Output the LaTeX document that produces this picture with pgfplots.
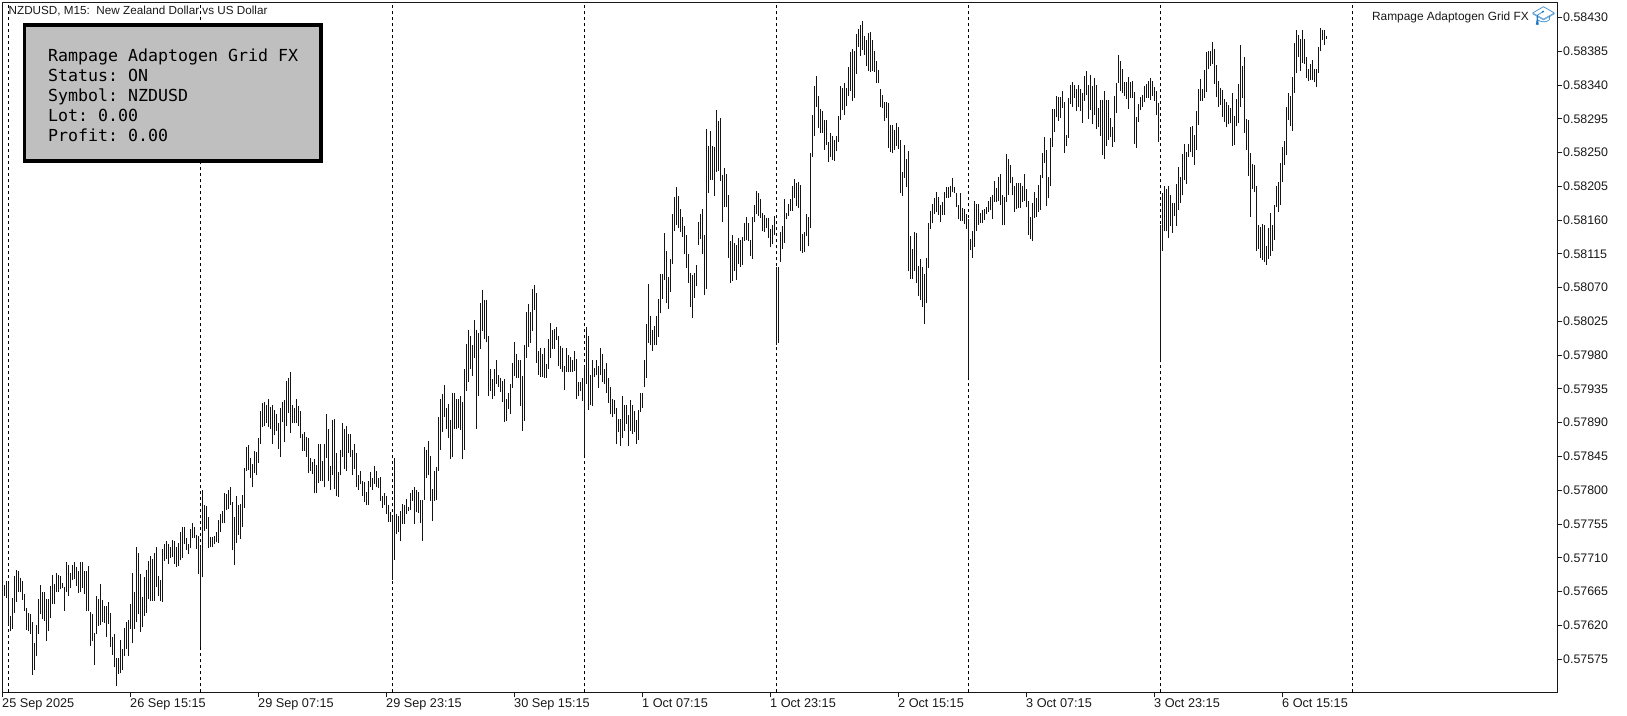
\documentclass[border=0pt]{standalone}
\usepackage{fontspec}
\setmainfont{Liberation Sans}
\newfontfamily\panelfont{DejaVu Sans Mono}
\newfontfamily\emojifont{Noto Emoji}
\usepackage{pgfplots}
\usepackage{pgfplotstable}
\pgfplotsset{compat=1.18}

% NZDUSD M15 bars: bar number, low, high
\pgfplotstableread{
i lo hi
0 0.57659 0.57674
1 0.57656 0.57679
2 0.57621 0.57675
3 0.57612 0.57633
4 0.57615 0.57656
5 0.57637 0.57686
6 0.57651 0.57694
7 0.57664 0.57693
8 0.57664 0.57683
9 0.57654 0.57679
10 0.57639 0.57662
11 0.57614 0.57643
12 0.57612 0.57637
13 0.57609 0.57635
14 0.57554 0.57625
15 0.57561 0.57596
16 0.57579 0.57621
17 0.57609 0.57655
18 0.57635 0.57674
19 0.57628 0.57665
20 0.57626 0.57665
21 0.57599 0.57655
22 0.57612 0.57655
23 0.57630 0.57673
24 0.57648 0.57687
25 0.57648 0.57675
26 0.57664 0.57690
27 0.57665 0.57687
28 0.57668 0.57686
29 0.57670 0.57676
30 0.57639 0.57671
31 0.57665 0.57705
32 0.57659 0.57701
33 0.57670 0.57690
34 0.57680 0.57701
35 0.57682 0.57705
36 0.57673 0.57698
37 0.57663 0.57693
38 0.57664 0.57705
39 0.57670 0.57705
40 0.57662 0.57693
41 0.57639 0.57693
42 0.57639 0.57699
43 0.57593 0.57638
44 0.57599 0.57635
45 0.57567 0.57610
46 0.57608 0.57659
47 0.57619 0.57655
48 0.57621 0.57675
49 0.57624 0.57654
50 0.57623 0.57646
51 0.57604 0.57646
52 0.57622 0.57651
53 0.57591 0.57637
54 0.57581 0.57605
55 0.57564 0.57608
56 0.57539 0.57577
57 0.57555 0.57577
58 0.57556 0.57601
59 0.57560 0.57588
60 0.57579 0.57617
61 0.57588 0.57625
62 0.57579 0.57627
63 0.57615 0.57648
64 0.57596 0.57690
65 0.57615 0.57664
66 0.57624 0.57724
67 0.57635 0.57716
68 0.57611 0.57689
69 0.57618 0.57658
70 0.57633 0.57685
71 0.57637 0.57694
72 0.57655 0.57706
73 0.57652 0.57713
74 0.57652 0.57709
75 0.57653 0.57717
76 0.57671 0.57725
77 0.57659 0.57686
78 0.57652 0.57680
79 0.57651 0.57722
80 0.57706 0.57729
81 0.57708 0.57733
82 0.57702 0.57728
83 0.57710 0.57724
84 0.57711 0.57734
85 0.57702 0.57733
86 0.57698 0.57724
87 0.57699 0.57730
88 0.57707 0.57744
89 0.57710 0.57751
90 0.57728 0.57751
91 0.57720 0.57737
92 0.57715 0.57729
93 0.57723 0.57748
94 0.57737 0.57756
95 0.57737 0.57751
96 0.57722 0.57740
97 0.57688 0.57739
98 0.57591 0.57724
99 0.57684 0.57801
100 0.57746 0.57781
101 0.57749 0.57779
102 0.57723 0.57764
103 0.57724 0.57738
104 0.57724 0.57738
105 0.57729 0.57739
106 0.57731 0.57744
107 0.57730 0.57760
108 0.57744 0.57768
109 0.57756 0.57773
110 0.57756 0.57797
111 0.57774 0.57795
112 0.57775 0.57801
113 0.57781 0.57805
114 0.57720 0.57785
115 0.57700 0.57765
116 0.57730 0.57793
117 0.57741 0.57780
118 0.57735 0.57782
119 0.57751 0.57794
120 0.57776 0.57830
121 0.57826 0.57857
122 0.57827 0.57860
123 0.57817 0.57843
124 0.57804 0.57835
125 0.57823 0.57852
126 0.57820 0.57851
127 0.57836 0.57870
128 0.57861 0.57905
129 0.57884 0.57916
130 0.57885 0.57917
131 0.57889 0.57913
132 0.57884 0.57922
133 0.57882 0.57911
134 0.57862 0.57913
135 0.57873 0.57907
136 0.57879 0.57902
137 0.57855 0.57889
138 0.57844 0.57909
139 0.57891 0.57918
140 0.57864 0.57920
141 0.57886 0.57945
142 0.57903 0.57949
143 0.57876 0.57957
144 0.57889 0.57913
145 0.57889 0.57909
146 0.57889 0.57921
147 0.57886 0.57912
148 0.57869 0.57905
149 0.57852 0.57875
150 0.57852 0.57878
151 0.57844 0.57871
152 0.57823 0.57869
153 0.57826 0.57843
154 0.57822 0.57838
155 0.57796 0.57842
156 0.57796 0.57833
157 0.57810 0.57862
158 0.57813 0.57862
159 0.57812 0.57839
160 0.57804 0.57861
161 0.57843 0.57901
162 0.57813 0.57882
163 0.57801 0.57833
164 0.57821 0.57893
165 0.57802 0.57895
166 0.57793 0.57849
167 0.57791 0.57825
168 0.57820 0.57853
169 0.57844 0.57889
170 0.57829 0.57881
171 0.57826 0.57885
172 0.57849 0.57875
173 0.57844 0.57875
174 0.57820 0.57854
175 0.57829 0.57861
176 0.57804 0.57849
177 0.57800 0.57820
178 0.57808 0.57826
179 0.57793 0.57812
180 0.57784 0.57811
181 0.57780 0.57798
182 0.57781 0.57812
183 0.57804 0.57825
184 0.57800 0.57817
185 0.57809 0.57832
186 0.57804 0.57826
187 0.57803 0.57817
188 0.57786 0.57818
189 0.57776 0.57792
190 0.57780 0.57796
191 0.57769 0.57793
192 0.57758 0.57781
193 0.57758 0.57771
194 0.57680 0.57765
195 0.57707 0.57843
196 0.57742 0.57768
197 0.57744 0.57766
198 0.57732 0.57773
199 0.57755 0.57782
200 0.57755 0.57780
201 0.57769 0.57789
202 0.57772 0.57778
203 0.57774 0.57797
204 0.57786 0.57801
205 0.57755 0.57805
206 0.57771 0.57800
207 0.57770 0.57798
208 0.57756 0.57787
209 0.57733 0.57787
210 0.57787 0.57858
211 0.57817 0.57853
212 0.57820 0.57865
213 0.57786 0.57845
214 0.57759 0.57802
215 0.57786 0.57826
216 0.57787 0.57831
217 0.57826 0.57898
218 0.57854 0.57921
219 0.57878 0.57928
220 0.57898 0.57940
221 0.57881 0.57909
222 0.57870 0.57915
223 0.57841 0.57893
224 0.57844 0.57930
225 0.57882 0.57929
226 0.57882 0.57921
227 0.57883 0.57921
228 0.57880 0.57926
229 0.57841 0.57917
230 0.57854 0.57961
231 0.57932 0.57995
232 0.57944 0.58014
233 0.57961 0.58005
234 0.57952 0.57994
235 0.57976 0.58027
236 0.57882 0.58014
237 0.57926 0.58009
238 0.57988 0.58049
239 0.58012 0.58067
240 0.58002 0.58054
241 0.57997 0.58054
242 0.57926 0.58005
243 0.57932 0.57962
244 0.57922 0.57948
245 0.57926 0.57962
246 0.57942 0.57973
247 0.57938 0.57954
248 0.57931 0.57950
249 0.57918 0.57945
250 0.57891 0.57948
251 0.57892 0.57921
252 0.57908 0.57929
253 0.57902 0.57942
254 0.57936 0.57970
255 0.57952 0.57998
256 0.57949 0.57982
257 0.57950 0.57973
258 0.57912 0.57973
259 0.57879 0.57952
260 0.57892 0.57994
261 0.57976 0.58038
262 0.57991 0.58048
263 0.57996 0.58037
264 0.58012 0.58068
265 0.58040 0.58073
266 0.57970 0.58063
267 0.57954 0.57986
268 0.57951 0.57989
269 0.57951 0.57981
270 0.57950 0.57989
271 0.57950 0.57968
272 0.57962 0.58002
273 0.57976 0.58023
274 0.57988 0.58013
275 0.57988 0.58015
276 0.58000 0.58018
277 0.57966 0.58006
278 0.57962 0.57992
279 0.57958 0.57990
280 0.57934 0.57965
281 0.57958 0.57989
282 0.57957 0.57980
283 0.57958 0.57978
284 0.57958 0.57973
285 0.57959 0.57985
286 0.57921 0.57975
287 0.57925 0.57944
288 0.57932 0.57944
289 0.57919 0.57950
290 0.57847 0.57965
291 0.57941 0.58018
292 0.57907 0.58006
293 0.57913 0.57953
294 0.57912 0.57973
295 0.57951 0.57963
296 0.57953 0.57973
297 0.57936 0.57966
298 0.57954 0.57990
299 0.57944 0.57981
300 0.57942 0.57961
301 0.57930 0.57969
302 0.57916 0.57950
303 0.57901 0.57938
304 0.57898 0.57922
305 0.57902 0.57920
306 0.57861 0.57910
307 0.57878 0.57895
308 0.57859 0.57895
309 0.57870 0.57925
310 0.57879 0.57913
311 0.57888 0.57914
312 0.57859 0.57900
313 0.57879 0.57920
314 0.57875 0.57914
315 0.57877 0.57905
316 0.57861 0.57893
317 0.57867 0.57907
318 0.57904 0.57929
319 0.57910 0.57930
320 0.57937 0.57973
321 0.57949 0.58021
322 0.57996 0.58075
323 0.57993 0.58032
324 0.57986 0.58013
325 0.57993 0.58019
326 0.57993 0.58032
327 0.58004 0.58055
328 0.58036 0.58088
329 0.58055 0.58088
330 0.58080 0.58143
331 0.58049 0.58119
332 0.58042 0.58084
333 0.58064 0.58108
334 0.58101 0.58168
335 0.58146 0.58191
336 0.58154 0.58204
337 0.58150 0.58192
338 0.58144 0.58175
339 0.58138 0.58164
340 0.58115 0.58152
341 0.58096 0.58140
342 0.58076 0.58115
343 0.58044 0.58090
344 0.58029 0.58087
345 0.58056 0.58089
346 0.58072 0.58100
347 0.58127 0.58158
348 0.58135 0.58168
349 0.58115 0.58175
350 0.58060 0.58140
351 0.58068 0.58281
352 0.58196 0.58259
353 0.58213 0.58279
354 0.58213 0.58259
355 0.58192 0.58258
356 0.58224 0.58307
357 0.58226 0.58292
358 0.58212 0.58296
359 0.58158 0.58220
360 0.58178 0.58229
361 0.58177 0.58221
362 0.58109 0.58194
363 0.58076 0.58132
364 0.58079 0.58140
365 0.58092 0.58129
366 0.58080 0.58127
367 0.58102 0.58136
368 0.58098 0.58133
369 0.58100 0.58138
370 0.58132 0.58156
371 0.58133 0.58164
372 0.58132 0.58156
373 0.58112 0.58133
374 0.58108 0.58164
375 0.58158 0.58180
376 0.58168 0.58199
377 0.58166 0.58196
378 0.58163 0.58188
379 0.58145 0.58170
380 0.58144 0.58167
381 0.58149 0.58163
382 0.58136 0.58163
383 0.58124 0.58148
384 0.58128 0.58153
385 0.58140 0.58166
386 0.57993 0.58097
387 0.57996 0.58098
388 0.58104 0.58144
389 0.58121 0.58152
390 0.58130 0.58188
391 0.58161 0.58170
392 0.58166 0.58181
393 0.58172 0.58188
394 0.58172 0.58206
395 0.58190 0.58215
396 0.58179 0.58210
397 0.58176 0.58211
398 0.58119 0.58207
399 0.58116 0.58141
400 0.58117 0.58144
401 0.58139 0.58168
402 0.58125 0.58164
403 0.58150 0.58249
404 0.58244 0.58300
405 0.58272 0.58339
406 0.58311 0.58352
407 0.58283 0.58326
408 0.58276 0.58308
409 0.58276 0.58306
410 0.58254 0.58294
411 0.58260 0.58294
412 0.58238 0.58264
413 0.58244 0.58276
414 0.58240 0.58272
415 0.58239 0.58267
416 0.58252 0.58272
417 0.58264 0.58299
418 0.58294 0.58339
419 0.58307 0.58336
420 0.58300 0.58343
421 0.58312 0.58336
422 0.58326 0.58364
423 0.58332 0.58384
424 0.58319 0.58388
425 0.58323 0.58386
426 0.58355 0.58408
427 0.58391 0.58415
428 0.58379 0.58420
429 0.58387 0.58426
430 0.58380 0.58406
431 0.58366 0.58400
432 0.58359 0.58409
433 0.58358 0.58411
434 0.58359 0.58400
435 0.58357 0.58386
436 0.58343 0.58372
437 0.58343 0.58360
438 0.58311 0.58335
439 0.58309 0.58327
440 0.58292 0.58318
441 0.58296 0.58317
442 0.58256 0.58316
443 0.58251 0.58287
444 0.58249 0.58287
445 0.58253 0.58280
446 0.58259 0.58289
447 0.58255 0.58284
448 0.58196 0.58267
449 0.58192 0.58224
450 0.58216 0.58260
451 0.58204 0.58241
452 0.58092 0.58252
453 0.58081 0.58139
454 0.58081 0.58122
455 0.58092 0.58144
456 0.58076 0.58143
457 0.58059 0.58099
458 0.58053 0.58108
459 0.58044 0.58097
460 0.58022 0.58088
461 0.58049 0.58110
462 0.58096 0.58156
463 0.58148 0.58172
464 0.58156 0.58181
465 0.58168 0.58189
466 0.58171 0.58198
467 0.58167 0.58191
468 0.58157 0.58180
469 0.58167 0.58184
470 0.58167 0.58198
471 0.58190 0.58204
472 0.58190 0.58204
473 0.58191 0.58205
474 0.58197 0.58216
475 0.58196 0.58204
476 0.58178 0.58196
477 0.58161 0.58180
478 0.58159 0.58196
479 0.58159 0.58176
480 0.58155 0.58175
481 0.58148 0.58168
482 0.57950 0.58161
483 0.58120 0.58135
484 0.58109 0.58146
485 0.58124 0.58185
486 0.58146 0.58181
487 0.58154 0.58181
488 0.58156 0.58169
489 0.58156 0.58174
490 0.58160 0.58175
491 0.58168 0.58178
492 0.58171 0.58185
493 0.58173 0.58191
494 0.58161 0.58193
495 0.58184 0.58212
496 0.58184 0.58203
497 0.58186 0.58218
498 0.58180 0.58221
499 0.58153 0.58194
500 0.58153 0.58191
501 0.58184 0.58248
502 0.58193 0.58241
503 0.58209 0.58233
504 0.58193 0.58218
505 0.58171 0.58205
506 0.58175 0.58209
507 0.58176 0.58209
508 0.58176 0.58209
509 0.58184 0.58205
510 0.58186 0.58222
511 0.58177 0.58201
512 0.58140 0.58185
513 0.58135 0.58164
514 0.58132 0.58183
515 0.58163 0.58198
516 0.58164 0.58190
517 0.58171 0.58207
518 0.58174 0.58220
519 0.58216 0.58250
520 0.58236 0.58271
521 0.58179 0.58254
522 0.58189 0.58218
523 0.58205 0.58270
524 0.58258 0.58308
525 0.58278 0.58308
526 0.58297 0.58326
527 0.58292 0.58324
528 0.58296 0.58324
529 0.58310 0.58332
530 0.58250 0.58317
531 0.58259 0.58274
532 0.58269 0.58323
533 0.58315 0.58340
534 0.58311 0.58344
535 0.58323 0.58340
536 0.58305 0.58335
537 0.58311 0.58340
538 0.58305 0.58335
539 0.58290 0.58330
540 0.58319 0.58352
541 0.58327 0.58359
542 0.58295 0.58340
543 0.58307 0.58354
544 0.58288 0.58339
545 0.58300 0.58349
546 0.58281 0.58340
547 0.58284 0.58309
548 0.58272 0.58320
549 0.58247 0.58320
550 0.58241 0.58332
551 0.58259 0.58320
552 0.58267 0.58320
553 0.58271 0.58296
554 0.58258 0.58284
555 0.58264 0.58326
556 0.58303 0.58343
557 0.58343 0.58380
558 0.58332 0.58372
559 0.58329 0.58361
560 0.58326 0.58344
561 0.58322 0.58344
562 0.58308 0.58351
563 0.58323 0.58344
564 0.58323 0.58346
565 0.58262 0.58331
566 0.58256 0.58298
567 0.58291 0.58315
568 0.58307 0.58324
569 0.58311 0.58327
570 0.58317 0.58339
571 0.58323 0.58342
572 0.58323 0.58345
573 0.58320 0.58349
574 0.58326 0.58345
575 0.58319 0.58338
576 0.58300 0.58332
577 0.58264 0.58316
578 0.57972 0.58153
579 0.58119 0.58196
580 0.58145 0.58205
581 0.58145 0.58201
582 0.58136 0.58205
583 0.58152 0.58194
584 0.58143 0.58183
585 0.58166 0.58183
586 0.58152 0.58208
587 0.58174 0.58231
588 0.58183 0.58218
589 0.58193 0.58248
590 0.58213 0.58262
591 0.58208 0.58251
592 0.58244 0.58262
593 0.58251 0.58284
594 0.58244 0.58285
595 0.58234 0.58274
596 0.58253 0.58305
597 0.58287 0.58335
598 0.58319 0.58348
599 0.58319 0.58335
600 0.58323 0.58360
601 0.58331 0.58384
602 0.58361 0.58386
603 0.58366 0.58386
604 0.58368 0.58398
605 0.58341 0.58388
606 0.58324 0.58367
607 0.58311 0.58346
608 0.58314 0.58336
609 0.58298 0.58334
610 0.58291 0.58322
611 0.58284 0.58318
612 0.58288 0.58313
613 0.58289 0.58310
614 0.58259 0.58330
615 0.58260 0.58299
616 0.58286 0.58322
617 0.58289 0.58341
618 0.58311 0.58393
619 0.58323 0.58366
620 0.58276 0.58378
621 0.58254 0.58295
622 0.58219 0.58293
623 0.58164 0.58250
624 0.58202 0.58235
625 0.58198 0.58233
626 0.58119 0.58206
627 0.58121 0.58153
628 0.58109 0.58151
629 0.58107 0.58155
630 0.58104 0.58153
631 0.58100 0.58126
632 0.58108 0.58150
633 0.58112 0.58170
634 0.58119 0.58154
635 0.58134 0.58180
636 0.58178 0.58205
637 0.58171 0.58211
638 0.58180 0.58236
639 0.58211 0.58257
640 0.58234 0.58265
641 0.58247 0.58311
642 0.58294 0.58330
643 0.58286 0.58325
644 0.58279 0.58351
645 0.58330 0.58396
646 0.58356 0.58414
647 0.58378 0.58407
648 0.58359 0.58401
649 0.58370 0.58414
650 0.58368 0.58402
651 0.58349 0.58377
652 0.58345 0.58361
653 0.58347 0.58368
654 0.58347 0.58373
655 0.58344 0.58362
656 0.58338 0.58362
657 0.58356 0.58391
658 0.58385 0.58416
659 0.58400 0.58413
660 0.58393 0.58413
661 0.58402 0.58405
}\bars

\begin{document}
\frenchspacing
\begin{tikzpicture}
\useasboundingbox (0,0) rectangle (1627bp,716bp);
\begin{axis}[
    at={(2.5bp,23.5bp)},
    anchor=south west,
    scale only axis,
    width=1555bp,
    height=690bp,
    xmin=-1,
    xmax=776.5,
    ymin=0.575305,
    ymax=0.58450,
    axis line style={line width=1bp, black!90},
    tick style={line width=1bp, black!90},
    major tick length=5bp,
    tick align=outside,
    xtick pos=bottom,
    ytick pos=right,
    yticklabel pos=right,
    scaled y ticks=false,
    xtick={-1,63,127,191,255,319,383,447,511,575,639},
    xticklabels={25 Sep 2025,26 Sep 15:15,29 Sep 07:15,29 Sep 23:15,30 Sep 15:15,1 Oct 07:15,1 Oct 23:15,2 Oct 15:15,3 Oct 07:15,3 Oct 23:15,6 Oct 15:15},
    ytick={0.57575,0.57620,0.57665,0.57710,0.57755,0.57800,0.57845,0.57890,0.57935,0.57980,0.58025,0.58070,0.58115,0.58160,0.58205,0.58250,0.58295,0.58340,0.58385,0.58430},
    yticklabels={0.57575,0.57620,0.57665,0.57710,0.57755,0.57800,0.57845,0.57890,0.57935,0.57980,0.58025,0.58070,0.58115,0.58160,0.58205,0.58250,0.58295,0.58340,0.58385,0.58430},
    xticklabel style={font=\fontsize{12.7bp}{14bp}\selectfont, anchor=north west, inner xsep=0pt, inner ysep=1bp, xshift=-0.5bp, text=black!90},
    yticklabel style={font=\fontsize{12.4bp}{14bp}\selectfont, anchor=west, inner xsep=0.5bp, text=black!90},
    extra x ticks={2,98,194,290,386,482,578,674},
    extra x tick labels={},
    extra x tick style={grid=major, tick style={draw=none}},
    major grid style={black, line width=1bp, dash pattern=on 3bp off 3bp},
]
\addplot[draw=none, no markers, forget plot,
    error bars/.cd, y dir=plus, y explicit, error mark=none,
    error bar style={line width=1bp, black!92}]
    table[x=i, y=lo, y error expr=\thisrow{hi}-\thisrow{lo}] {\bars};
\end{axis}

% info panel, top left
\filldraw[fill=black!25, draw=black, line width=3.5bp]
    (24.7bp,691bp) rectangle (321bp,555bp);
\begin{scope}[every node/.style={anchor=base west, inner sep=0pt, text=black,
    font=\panelfont\fontsize{16.6bp}{20bp}\selectfont}]
\node at (48bp,654.5bp) {Rampage Adaptogen Grid FX};
\node at (48bp,634.5bp) {Status: ON};
\node at (48bp,614.5bp) {Symbol: NZDUSD};
\node at (48bp,594.5bp) {Lot: 0.00};
\node at (48bp,574.5bp) {Profit: 0.00};
\end{scope}

% chart captions
\node[anchor=base west, inner sep=0pt, text=black!90, font=\fontsize{11.7bp}{14bp}\selectfont]
    at (8.5bp,701bp) {NZDUSD, M15:\ \ New Zealand Dollar vs US Dollar};
\node[anchor=base east, inner sep=0pt, text=black!90, font=\fontsize{11.9bp}{14bp}\selectfont]
    at (1529bp,695bp) {Rampage Adaptogen Grid FX};
\node[inner sep=0pt, text={rgb,255:red,30;green,120;blue,195}, font=\emojifont\fontsize{18.5bp}{20bp}\selectfont]
    at (1543.5bp,699.5bp) {🎓};
\end{tikzpicture}
\end{document}
